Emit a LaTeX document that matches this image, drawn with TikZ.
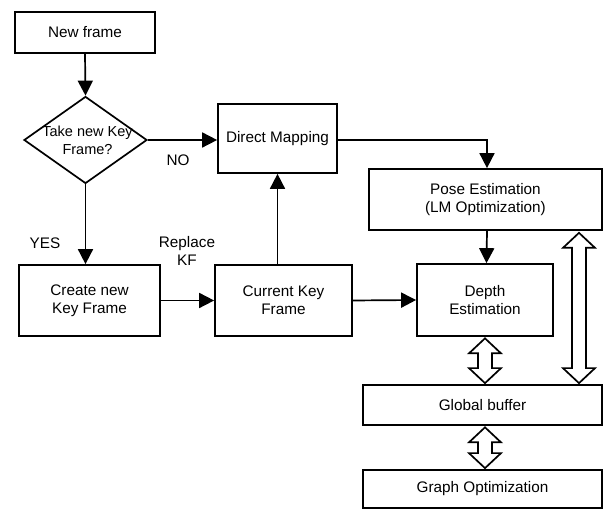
\documentclass[tikz,border=0pt]{standalone}
\usepackage{fontspec}
\setmainfont{Liberation Sans}
\usetikzlibrary{shapes.geometric,arrows.meta,calc}
\begin{document}
\begin{tikzpicture}[x=1pt,y=1pt,
  every node/.style={font=\fontsize{15.3}{18}\selectfont},
  box/.style={draw,line width=1.7pt,inner sep=0pt,align=center},
  conn/.style={line width=1.7pt,-{Triangle[length=15pt,width=15pt]}},
  hollow/.style={draw,line width=1.7pt,fill=white,line join=miter},
  lbl/.style={align=center,inner sep=0pt}]
\useasboundingbox (0,0) rectangle (606,511);
\node[box,minimum width=140,minimum height=41] (newframe) at (85,478.5) {New frame};
\node[draw,line width=1.7pt,diamond,inner sep=0pt,minimum width=123,minimum height=87] (dia) at (85.5,371) {};
\node[lbl,font=\fontsize{14.5}{18}\selectfont] (diat) at ($(dia.center)+(2,0)$) {Take new Key\\Frame?};
\node[box,minimum width=119,minimum height=69] (dm) at (277.5,372.5) {Direct Mapping};
\node[box,minimum width=233,minimum height=61] (pose) at (485.5,311.5) {Pose Estimation\\(LM Optimization)};
\node[box,minimum width=136,minimum height=72] (depth) at (485,211) {Depth\\Estimation};
\node[box,minimum width=141,minimum height=71] (create) at (89.5,210.5) {Create new\\Key Frame};
\node[box,minimum width=137,minimum height=71] (current) at (283.5,210.5) {Current Key\\Frame};
\node[box,minimum width=239,minimum height=40] (global) at (482.5,106) {Global buffer};
\node[box,minimum width=239,minimum height=38] (graph) at (482.5,22) {Graph Optimization};
\node[lbl] (no) at (178,351) {NO};
\node[lbl] (yes) at (45,268) {YES};
\node[lbl] (repl) at (187,260) {Replace\\KF};
% connectors
\draw[conn] (newframe.south) -- (dia.north);
\draw[conn] (dia.east) -- (dm.west |- dia.east);
\draw[conn] (dia.south) -- (dia.south |- create.north);
\draw[conn] (create.east) -- (current.west);
\draw[conn] (current.east) -- (depth.west);
\draw[conn] (dm.south |- current.north) -- (dm.south);
\coordinate (dmr) at ($(dm.east)+(0,-1.5)$);
\draw[conn] (dmr) -| ($(pose.north)+(1.5,0)$);
\draw[conn] ($(pose.south)+(1.5,0)$) -- ($(depth.north)+(1.5,0)$);
% hollow double arrows
\newcommand\dblarrow[3]{%
  \path[hollow] let \p1=(#1), \p2=(#2) in
    (#3,\y1) -- (#3+16pt,\y1-15pt) -- (#3+7pt,\y1-15pt) -- (#3+7pt,\y2+15pt)
    -- (#3+16pt,\y2+15pt) -- (#3,\y2) -- (#3-16pt,\y2+15pt) -- (#3-7pt,\y2+15pt)
    -- (#3-7pt,\y1-15pt) -- (#3-16pt,\y1-15pt) -- cycle;}
\coordinate (a1t) at ($(depth.south)+(0,-1.5)$);
\coordinate (a1b) at ($(global.north)+(0,1)$);
\dblarrow{a1t}{a1b}{485pt}
\coordinate (a2t) at ($(global.south)+(0,-1.5)$);
\coordinate (a2b) at ($(graph.north)+(0,1)$);
\dblarrow{a2t}{a2b}{485pt}
\coordinate (a3t) at ($(pose.south)+(0,-2)$);
\coordinate (a3b) at ($(global.north)+(0,1)$);
\dblarrow{a3t}{a3b}{579pt}
\end{tikzpicture}
\end{document}
